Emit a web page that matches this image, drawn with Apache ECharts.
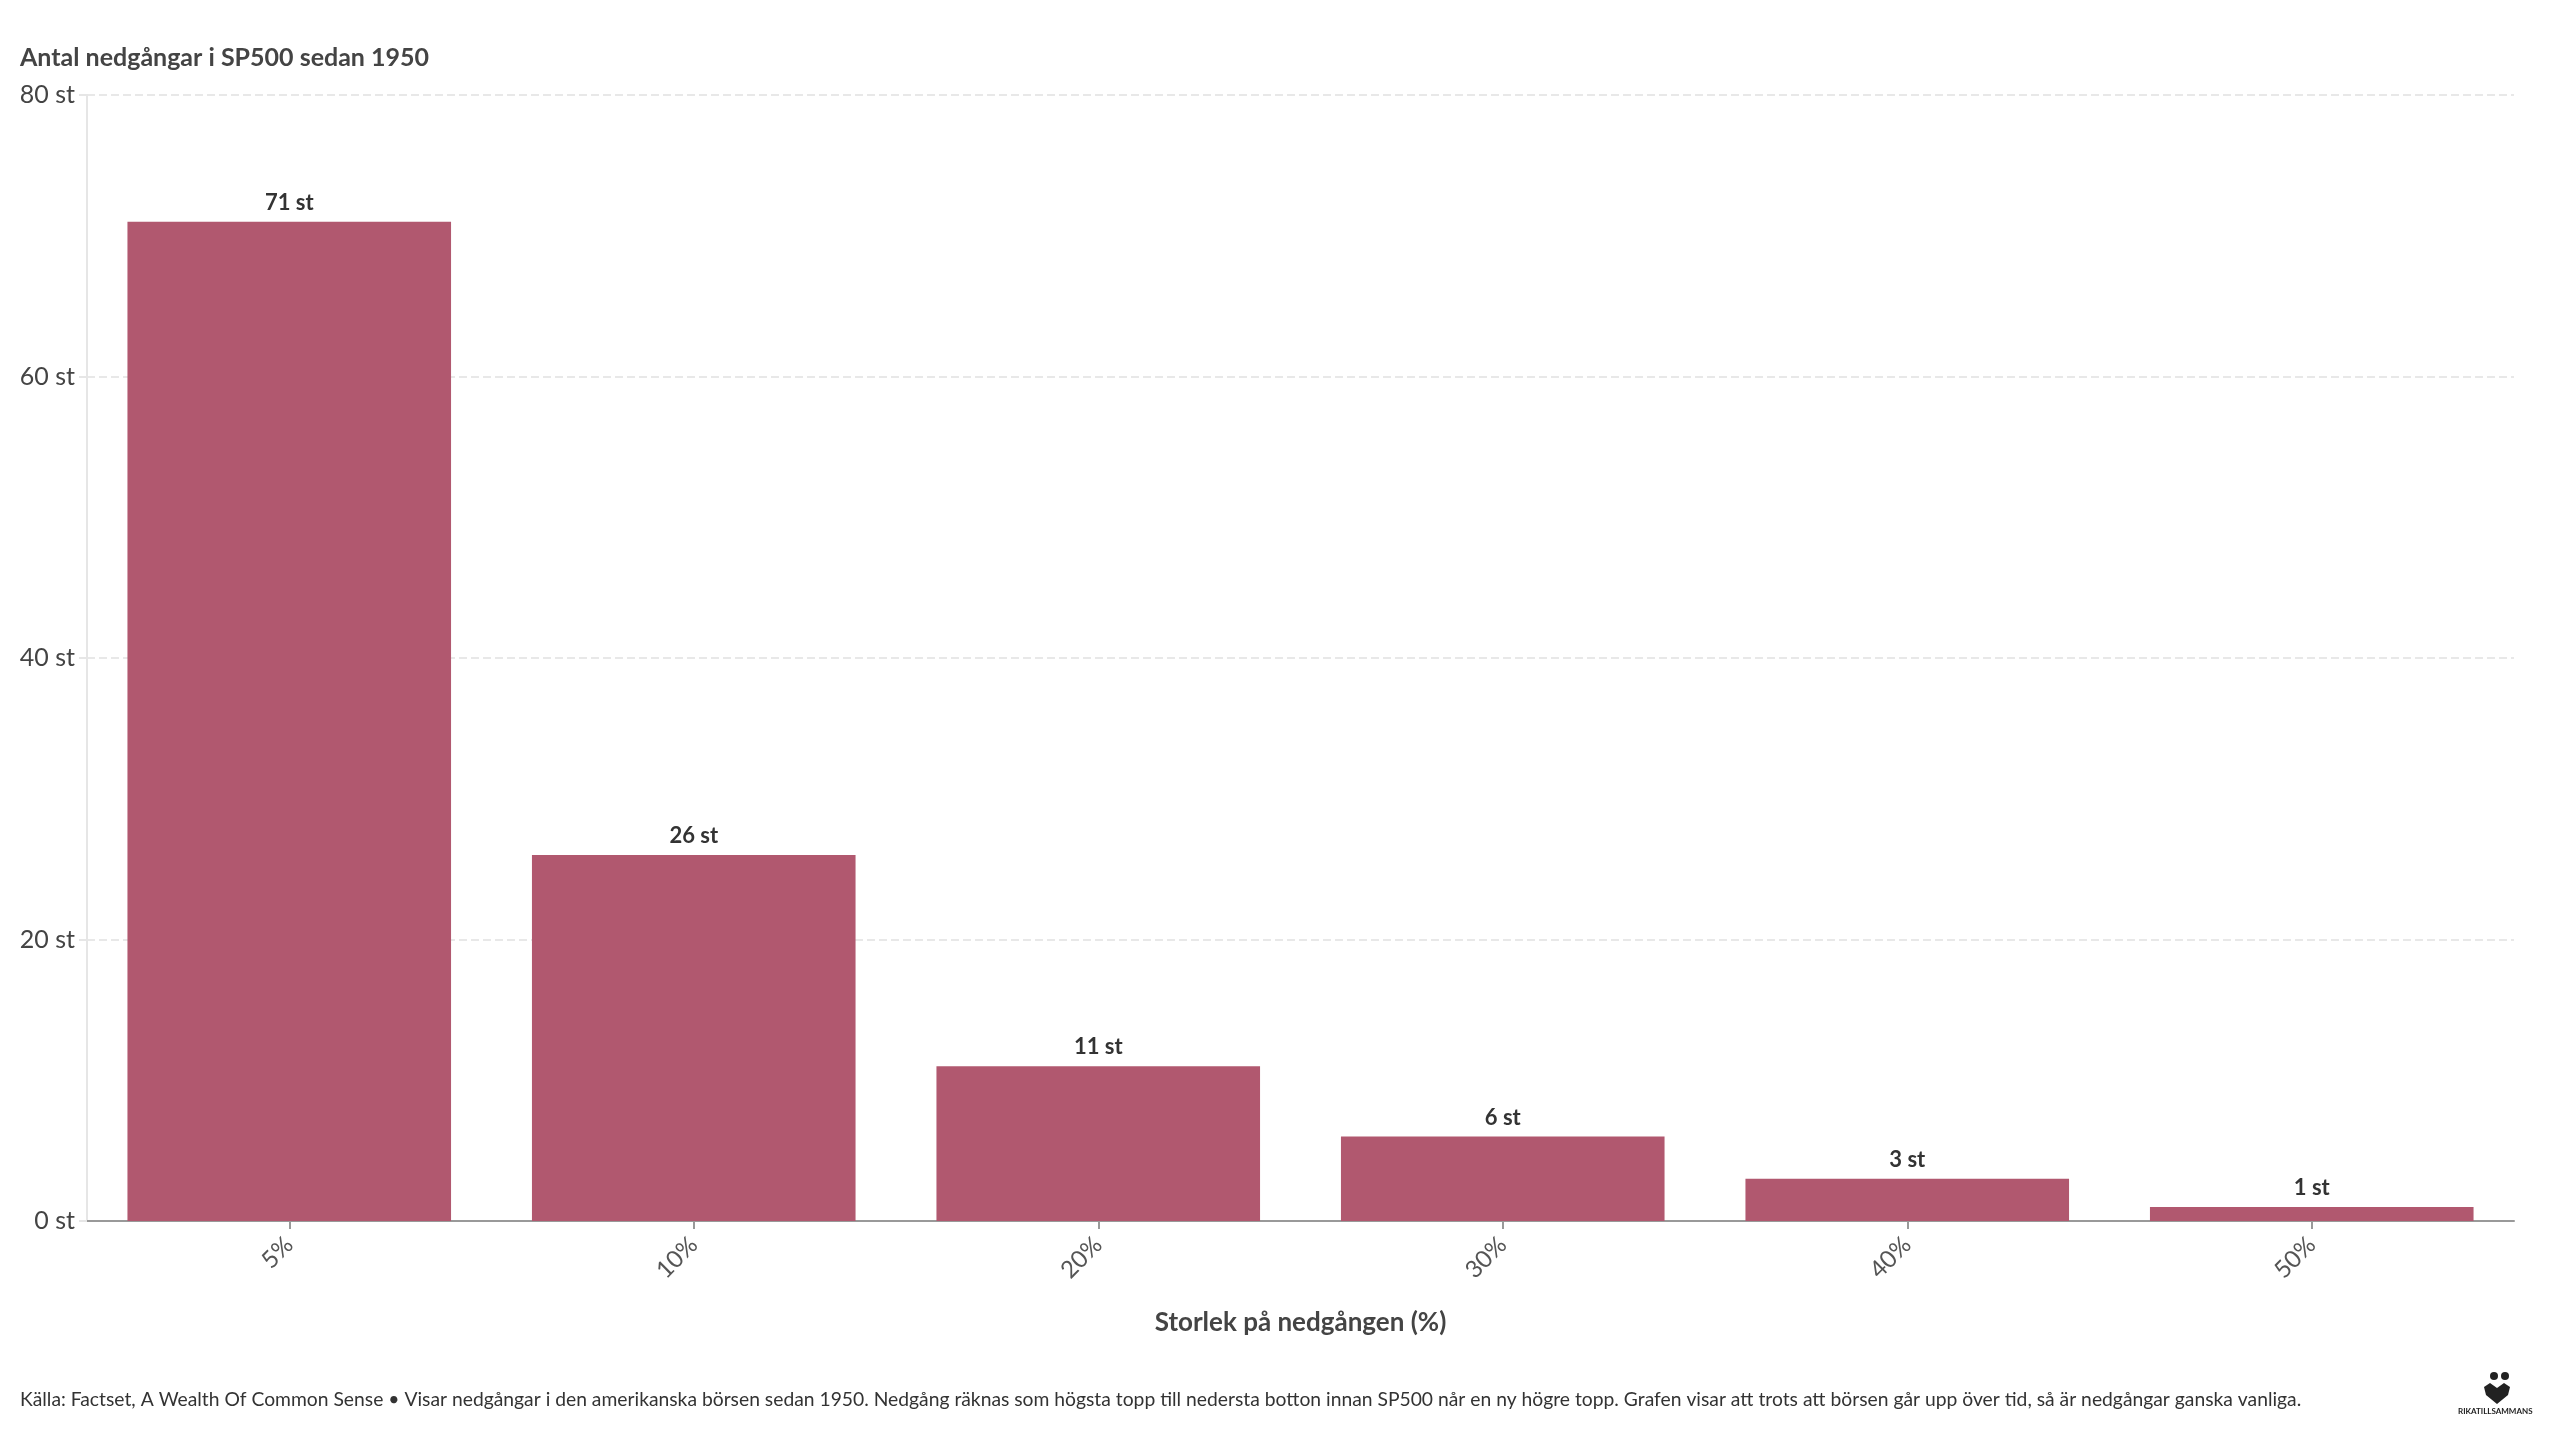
<!DOCTYPE html>
<html>
<head>
<meta charset="utf-8">
<script src="https://cdn.jsdelivr.net/npm/echarts@6/dist/echarts.min.js"></script>
<style>
html,body{margin:0;padding:0;background:#fff;}
#chart{width:2560px;height:1440px;}
</style>
</head>
<body>
<div id="chart"></div>
<script>
const categories = ['5%', '10%', '20%', '30%', '40%', '50%'];
const counts = [71, 26, 11, 6, 3, 1];
const yTicks = [0, 20, 40, 60, 80];

const titleText = 'Antal nedgångar i SP500 sedan 1950';
const xAxisTitle = 'Storlek på nedgången (%)';
const footerText = 'Källa: Factset, A Wealth Of Common Sense • Visar nedgångar i den amerikanska börsen sedan 1950. Nedgång räknas som högsta topp till nedersta botton innan SP500 når en ny högre topp. Grafen visar att trots att börsen går upp över tid, så är nedgångar ganska vanliga.';

const FONT = 'Lato, "Source Sans Pro", "Noto Sans", sans-serif';
const chart = echarts.init(document.getElementById('chart'), null, {renderer: 'canvas'});

chart.setOption({
  backgroundColor: '#ffffff',
  animation: false,
  textStyle: {fontFamily: FONT},
  title: {
    text: titleText,
    left: 15,
    top: 40,
    textStyle: {fontFamily: FONT, fontSize: 25, fontWeight: 'bold', color: '#444444'}
  },
  grid: {left: 87, right: 46, top: 95, bottom: 219, containLabel: false},
  xAxis: {
    type: 'category',
    data: categories,
    name: xAxisTitle,
    nameLocation: 'middle',
    nameGap: 89,
    nameTextStyle: {fontFamily: FONT, fontSize: 26, fontWeight: 'bold', color: '#444444'},
    axisLine: {show: true, lineStyle: {color: '#999999', width: 2}},
    axisTick: {show: true, alignWithLabel: true, length: 8, lineStyle: {color: '#999999', width: 2}},
    axisLabel: {rotate: 45, fontSize: 24, color: '#555555', margin: 20, fontFamily: FONT}
  },
  yAxis: {
    type: 'value',
    min: yTicks[0],
    max: yTicks[yTicks.length - 1],
    interval: 20,
    axisLine: {show: true, lineStyle: {color: '#e6e6e6', width: 2}},
    axisTick: {show: true, length: 8, lineStyle: {color: '#e6e6e6', width: 2}},
    axisLabel: {formatter: '{value} st', fontSize: 25, color: '#444444', margin: 12, fontFamily: FONT},
    splitLine: {show: true, lineStyle: {color: '#e8e8e8', type: 'dashed', width: 2}}
  },
  series: [{
    type: 'bar',
    data: counts,
    barCategoryGap: '20%',
    itemStyle: {color: '#b1586f'},
    label: {
      show: true,
      position: 'top',
      distance: 8,
      formatter: '{c} st',
      fontSize: 22,
      fontWeight: 'bold',
      color: '#333333',
      fontFamily: FONT
    }
  }],
  graphic: [
    {
      type: 'text',
      left: 20,
      top: 1390,
      style: {text: footerText, fontSize: 19.3, fill: '#333333', fontFamily: FONT}
    },
    {
      type: 'circle', left: 2490, top: 1372, shape: {r: 4}, style: {fill: '#222'}
    },
    {
      type: 'circle', left: 2501, top: 1372, shape: {r: 4}, style: {fill: '#222'}
    },
    {
      type: 'polygon',
      left: 2484, top: 1383,
      shape: {points: [[0, 4], [6, 0], [13, 5], [20, 0], [26, 4], [24, 12], [13, 21], [2, 12]]},
      style: {fill: '#222'}
    },
    {
      type: 'text',
      left: 2458, top: 1407,
      style: {text: 'RIKATILLSAMMANS', fontSize: 8, fontWeight: 'bold', fill: '#222', fontFamily: FONT}
    }
  ]
});
</script>
</body>
</html>
